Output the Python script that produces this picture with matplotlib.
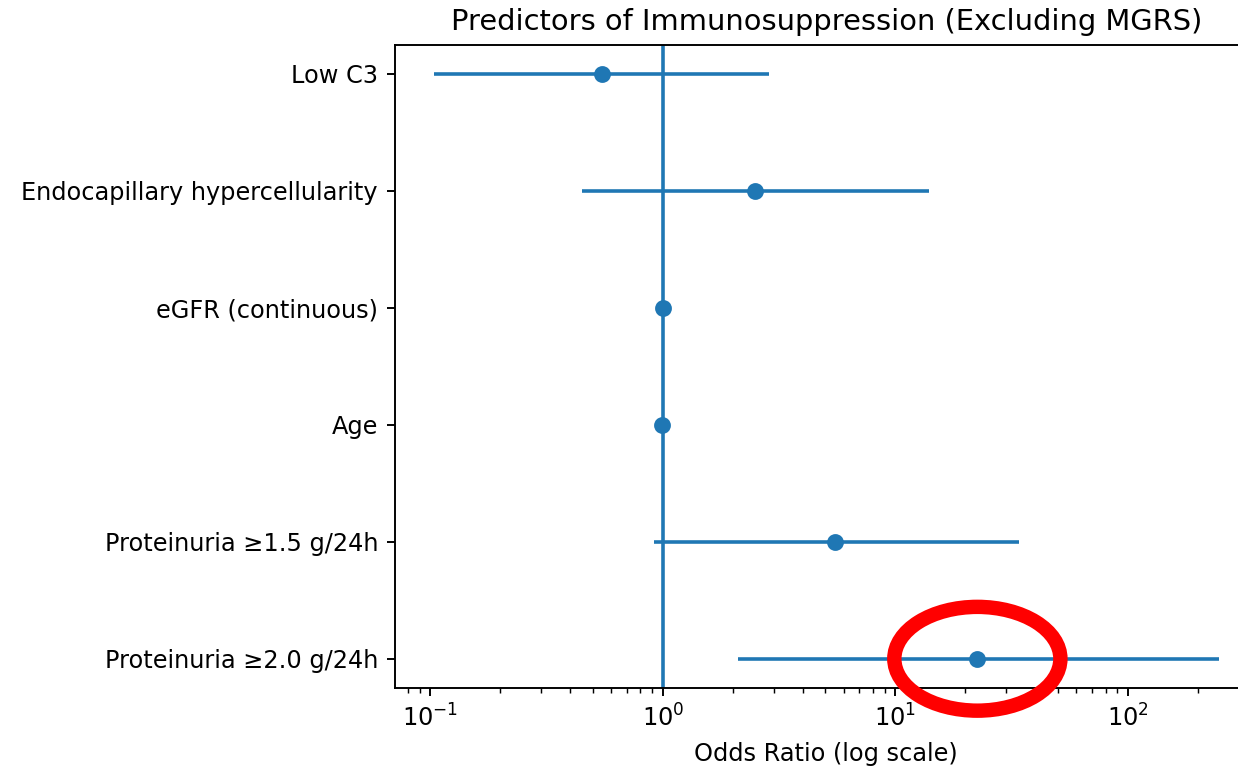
import matplotlib
matplotlib.use("Agg")
import matplotlib.pyplot as plt
import matplotlib.transforms as mtransforms
from matplotlib.patches import Ellipse
import numpy as np

# predictors, bottom to top
predictors = ["Proteinuria ≥2.0 g/24h", "Proteinuria ≥1.5 g/24h", "Age",
              "eGFR (continuous)", "Endocapillary hypercellularity", "Low C3"]
odds_ratio = [22.5, 5.5, 0.99, 1.0, 2.5, 0.55]
ci_low = [2.1, 0.92, 0.975, 0.985, 0.45, 0.104]
ci_high = [245.0, 34.0, 1.005, 1.015, 14.0, 2.85]

highlight = 0  # index of the circled predictor

dpi = 173
fig = plt.figure(figsize=(1238 / dpi, 776 / dpi), dpi=dpi)
ax = fig.add_axes([0.319, 0.1134, 0.697, 0.829])

y = np.arange(len(predictors))
orr = np.array(odds_ratio)
xerr = [orr - np.array(ci_low), np.array(ci_high) - orr]
ax.errorbar(orr, y, xerr=xerr, fmt='o', color='C0')
ax.axvline(1, color='C0')
ax.set_xscale('log')
ax.set_yticks(y)
ax.set_yticklabels(predictors)
ax.set_xlabel("Odds Ratio (log scale)")
ax.set_title("Predictors of Immunosuppression (Excluding MGRS)")

# red circle around highlighted point
trans = fig.dpi_scale_trans + mtransforms.ScaledTranslation(
    odds_ratio[highlight], y[highlight], ax.transData)
ax.add_patch(Ellipse((0, 0), 0.96, 0.60, transform=trans, fill=False,
                     edgecolor='red', linewidth=6, clip_on=False, zorder=5))

plt.savefig('out.png', dpi=dpi)
